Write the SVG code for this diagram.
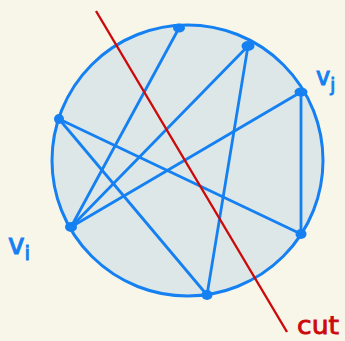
<svg xmlns="http://www.w3.org/2000/svg" width="345" height="341" viewBox="0 0 345 341">
<style>
.edge{stroke:#1580f2;stroke-width:2.8;fill:none;stroke-linecap:round}
.dot{fill:#1580f2}
.lbl{font-family:"DejaVu Sans",sans-serif;fill:#1580f2;stroke:#1580f2;stroke-width:1}
</style>
<rect width="345" height="341" fill="#f8f5e9"/>
<g id="circle"><circle cx="187.5" cy="160.5" r="135.5" fill="#dde7e7" stroke="#1580f2" stroke-width="3"/></g>
<g id="connectors">
<line class="edge" x1="71" y1="227" x2="179" y2="28"/>
<line class="edge" x1="71" y1="227" x2="248" y2="46"/>
<line class="edge" x1="71" y1="227" x2="301" y2="92"/>
<line class="edge" x1="59" y1="119" x2="301" y2="234"/>
<line class="edge" x1="59" y1="119" x2="207" y2="295"/>
<line class="edge" x1="248" y1="46" x2="207" y2="295"/>
<line class="edge" x1="301" y1="92" x2="301" y2="234"/>
</g>
<g id="nA"><ellipse class="dot" cx="179" cy="28" rx="6" ry="4.5"/></g>
<g id="nB"><ellipse class="dot" cx="248" cy="46" rx="6.5" ry="5"/></g>
<g id="nC"><ellipse class="dot" cx="301" cy="92" rx="6.5" ry="4.5"/></g>
<g id="nD"><ellipse class="dot" cx="59" cy="119" rx="5" ry="5"/></g>
<g id="nE"><ellipse class="dot" cx="71" cy="227" rx="6" ry="5"/></g>
<g id="nF"><ellipse class="dot" cx="301" cy="234" rx="5.5" ry="5"/></g>
<g id="nG"><ellipse class="dot" cx="207" cy="295" rx="5.5" ry="5"/></g>
<g id="cut">
<line x1="96" y1="11" x2="287" y2="332" stroke="#cc0a0a" stroke-width="2.4"/>
<text x="297" y="334" font-family="DejaVu Sans,sans-serif" font-size="24" fill="#cc0a0a" stroke="#cc0a0a" stroke-width="0.8" textLength="42" lengthAdjust="spacingAndGlyphs">cut</text>
</g>
<g id="labels">
<text class="lbl" x="316" y="85" font-size="24">v<tspan font-size="18" dy="6">j</tspan></text>
<text class="lbl" x="8" y="254" font-size="28">v<tspan font-size="20" dy="6">i</tspan></text>
</g>
</svg>
